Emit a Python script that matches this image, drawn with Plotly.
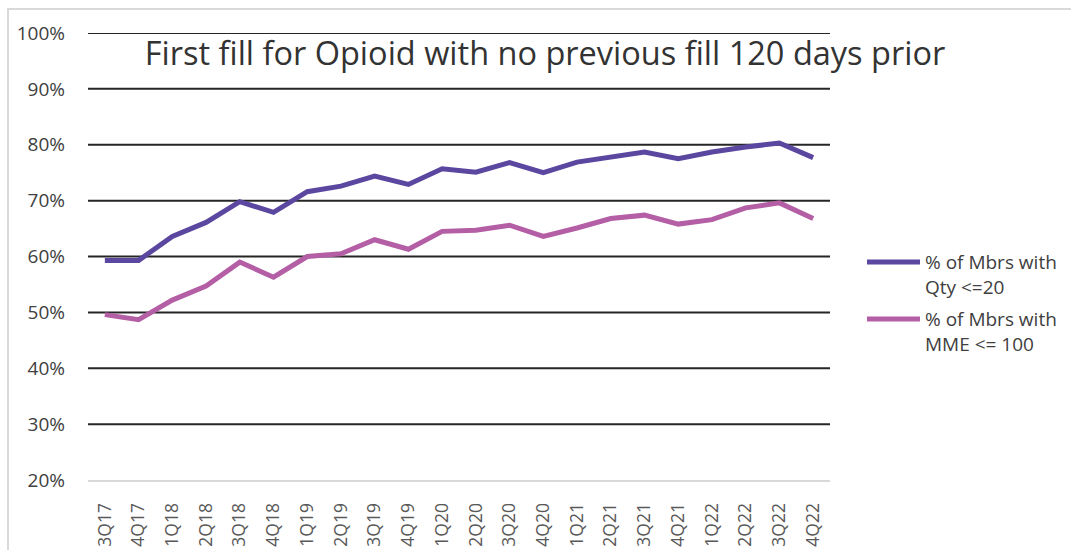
import plotly.graph_objects as go

quarters = ["3Q17", "4Q17", "1Q18", "2Q18", "3Q18", "4Q18", "1Q19", "2Q19",
            "3Q19", "4Q19", "1Q20", "2Q20", "3Q20", "4Q20", "1Q21", "2Q21",
            "3Q21", "4Q21", "1Q22", "2Q22", "3Q22", "4Q22"]

qty_le_20 = [59.3, 59.3, 63.6, 66.1, 69.8, 67.9, 71.6, 72.6, 74.4, 72.9, 75.7,
             75.1, 76.8, 75.0, 76.9, 77.8, 78.7, 77.5, 78.7, 79.6, 80.3, 77.7]

mme_le_100 = [49.6, 48.7, 52.2, 54.7, 59.0, 56.3, 60.0, 60.5, 63.0, 61.3, 64.5,
              64.7, 65.6, 63.6, 65.1, 66.8, 67.4, 65.8, 66.6, 68.7, 69.6, 66.8]

series_names = ["% of Mbrs with<br>Qty <=20", "% of Mbrs with<br>MME <= 100"]
series_colors = ["#5B47A0", "#B45EA5"]

y_ticks = [20, 30, 40, 50, 60, 70, 80, 90, 100]
y_tick_text = [f"{t}%" for t in y_ticks]

# plot area in pixels
W, H = 1071, 550
L, R, T, B = 88, 830, 33, 480
pw, ph = R - L, B - T


def px_x(x):
    return (x - L) / pw


def px_y(y):
    return (B - y) / ph


fig = go.Figure()
for name, vals, color in zip(series_names, [qty_le_20, mme_le_100], series_colors):
    fig.add_trace(go.Scatter(
        x=quarters, y=vals, mode="lines", name=name, showlegend=False,
        line=dict(color=color, width=5),
    ))

# horizontal gridlines (the 20% baseline is drawn as the light axis line)
for t in y_ticks[1:]:
    fig.add_shape(type="line", xref="paper", yref="y", x0=0, x1=1, y0=t, y1=t,
                  line=dict(color="#262626", width=2), layer="below")

# outer chart border
fig.add_shape(type="rect", xref="paper", yref="paper",
              x0=px_x(8), x1=px_x(1090), y0=px_y(570), y1=px_y(9),
              line=dict(color="#D9D9D9", width=2), layer="below")

# legend on the right: colour swatch + two-line label per series
legend_rows = [262, 319]
for name, color, yrow in zip(series_names, series_colors, legend_rows):
    fig.add_shape(type="line", xref="paper", yref="paper",
                  x0=px_x(867), x1=px_x(920), y0=px_y(yrow), y1=px_y(yrow),
                  line=dict(color=color, width=5))
    fig.add_annotation(
        xref="paper", yref="paper", x=px_x(923), y=px_y(yrow + 12.5),
        xanchor="left", yanchor="middle", align="left", showarrow=False,
        text=name, font=dict(size=19, color="#404040"),
    )

fig.update_layout(
    width=W, height=H,
    margin=dict(l=L, r=W - R, t=T, b=H - B, autoexpand=False),
    paper_bgcolor="white", plot_bgcolor="white",
    font=dict(family="Open Sans, sans-serif", color="#404040"),
    title=dict(
        text="First fill for Opioid with no previous fill 120 days prior",
        x=545 / W, xanchor="center", y=1 - 54 / H, yanchor="middle",
        font=dict(size=32.5, color="#333333"),
    ),
    xaxis=dict(
        type="category", range=[-0.5, 21.5], showgrid=False, automargin=False,
        tickangle=-90, tickfont=dict(size=17.5, color="#595959"),
        showline=True, linecolor="#D9D9D9", linewidth=2,
        ticks="", ticklabelstandoff=14,
    ),
    yaxis=dict(
        range=[20, 100], tickmode="array", tickvals=y_ticks, ticktext=y_tick_text,
        showgrid=False, zeroline=False, showline=False, automargin=False,
        tickfont=dict(size=19, color="#404040"), ticks="", ticklabelstandoff=22,
    ),
    showlegend=False,
)

fig.write_html("out.html")
